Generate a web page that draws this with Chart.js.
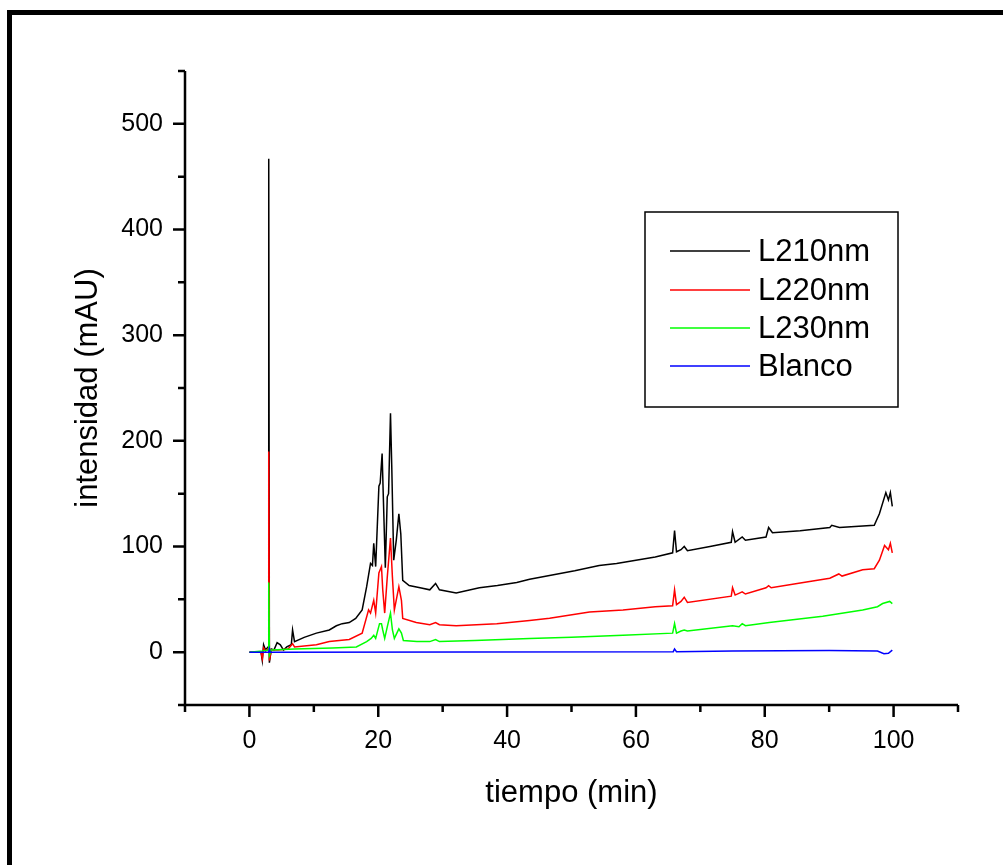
<!DOCTYPE html>
<html>
<head>
<meta charset="utf-8">
<script src="https://cdn.jsdelivr.net/npm/chart.js@4/dist/chart.umd.min.js"></script>
<style>
  html, body { margin: 0; padding: 0; background: #fff; }
  #wrap { width: 1003px; height: 865px; }
</style>
</head>
<body>
<div id="wrap"><canvas id="chart" width="1003" height="865"></canvas></div>
<script>
// series labels
const seriesNames = ['L210nm', 'L220nm', 'L230nm', 'Blanco']

// L210nm (tiempo, intensidad)
const tBlack = [
  0, 1.8, 2.0, 2.2, 2.5, 2.9, 3.0, 3.1, 3.4, 3.8,
  4.3, 4.8, 5.3, 5.8, 6.5, 6.7, 7.0, 8.5, 10.4, 12.4,
  13.5, 14.4, 15.5, 16.5, 17.5, 18.2, 18.8, 19.1, 19.3, 19.6,
  20.1, 20.3, 20.6, 20.8, 21.1, 21.4, 21.6, 21.9, 22.1, 22.4,
  22.8, 23.2, 23.5, 23.8, 24.8, 26.5, 28.0, 28.9, 29.5, 32.1,
  35.7, 38.5, 41.5, 43.5, 47, 50.5, 54.3, 57, 60, 63,
  65.7, 66.0, 66.3, 67.0, 67.5, 68.0, 71.5, 74.8, 75.0, 75.4,
  76.5, 77.0, 80.2, 80.6, 81.2, 85.5, 90.1, 90.4, 91.6, 94,
  97.0, 97.8, 98.8, 99.2, 99.5, 99.8
]
const vBlack = [
  0, 0, -8, 7, 2, 5, 467, -10, 3, 2,
  9, 7, 2, 5, 7, 21, 10, 14, 18, 21,
  25, 27, 28, 32, 40, 62, 84, 82, 103, 81,
  157, 160, 188, 144, 80, 147, 150, 226, 175, 87,
  106, 131, 112, 68, 63, 61, 59, 65, 59, 56,
  61, 63, 66, 69, 73, 77, 82, 84, 87, 90,
  94, 115, 95, 97, 100, 96, 100, 104, 114, 104,
  109, 106, 109, 118, 113, 115, 118, 120, 118, 119,
  120, 131, 151, 144, 151, 138
]

// L220nm
const tRed = [
  0, 1.8, 2.0, 2.2, 2.5, 2.9, 3.0, 3.1, 3.4, 4.5,
  6.0, 6.7, 7.0, 10.4, 12.4, 15.5, 17.5, 18.5, 18.8, 19.3,
  19.6, 20.1, 20.5, 20.7, 21.0, 21.4, 21.9, 22.2, 22.5, 23.2,
  23.6, 23.8, 25.9, 28.0, 28.9, 29.5, 32.1, 38.4, 43.5, 46.6,
  52.8, 58, 63, 65.7, 66.0, 66.3, 67.0, 67.5, 68.0, 74.8,
  75.0, 75.4, 76.5, 77.0, 80.2, 80.6, 81.0, 86, 90.1, 91.5,
  92, 95.2, 97.0, 97.8, 98.6, 99.2, 99.5, 99.8
]
const vRed = [
  0, 0, -6, 4, 1, 3, 190, -8, 2, 2,
  3, 8, 5, 7, 10, 12, 18, 40, 37, 49,
  37, 75, 81, 59, 37, 71, 108, 71, 40, 62,
  49, 32, 28, 26, 28, 26, 25, 27, 30, 32,
  38, 40, 43, 44, 59, 45, 48, 52, 47, 53,
  61, 54, 57, 55, 61, 63, 61, 66, 70, 74,
  72, 78, 79, 87, 101, 97, 103, 94
]

// L230nm
const tGreen = [
  0, 2.0, 2.9, 3.0, 3.1, 3.4, 7.0, 12.9, 16.6, 18.2,
  18.9, 19.3, 19.6, 20.2, 20.5, 20.7, 21.0, 21.4, 21.9, 22.2,
  22.5, 23.2, 23.6, 23.9, 26, 28.0, 28.9, 29.5, 35, 43.5,
  50, 58, 65.7, 66.0, 66.3, 67.0, 67.5, 68.0, 75.0, 76.0,
  76.5, 77.0, 80.7, 89, 95.2, 97.5, 98.3, 99.4, 99.8
]
const vGreen = [
  0, 1, 2, 66, -3, 2, 3, 4, 5, 10,
  13, 16, 13, 27, 27, 21, 13, 24, 37, 21,
  13, 22, 18, 11, 10, 10, 12, 10, 11, 13,
  14, 16, 18, 27, 18, 20, 21, 20, 25, 24,
  27, 25, 28, 34, 40, 43, 46, 48, 46
]

// Blanco
const tBlue = [0, 3.0, 3.1, 3.2, 65.8, 66.0, 66.3, 75.0, 90, 97.5, 98.5, 99.2, 99.8]
const vBlue = [0, 0, 3, 0, 0.5, 3, 0.5, 1, 1.5, 1, -1.5, -1, 2]

// axis ticks
const xTicks = [-10, 0, 10, 20, 30, 40, 50, 60, 70, 80, 90, 100, 110]
const yTicks = [-50, 0, 50, 100, 150, 200, 250, 300, 350, 400, 450, 500, 550]

const colors = ['#000000', '#ff0000', '#00ff00', '#0000ff']
const FONT = 'Liberation Sans, Arial, sans-serif'

function pts(t, v) {
  return t.map((x, i) => ({ x: x, y: v[i] }))
}

const frameAndAxes = {
  id: 'frameAndAxes',
  afterDraw(chart) {
    const ctx = chart.ctx
    const area = chart.chartArea
    const xs = chart.scales.x
    const ys = chart.scales.y
    ctx.save()
    ctx.strokeStyle = '#000'
    ctx.lineCap = 'butt'

    // outer frame (left and top edges visible)
    ctx.lineWidth = 5
    ctx.beginPath()
    ctx.moveTo(9.5, 865)
    ctx.lineTo(9.5, 12.5)
    ctx.lineTo(1003, 12.5)
    ctx.stroke()

    // axes
    ctx.lineWidth = 2.5
    ctx.beginPath()
    ctx.moveTo(area.left, area.top)
    ctx.lineTo(area.left, area.bottom + 1.2)
    ctx.moveTo(area.left - 1.2, area.bottom)
    ctx.lineTo(area.right, area.bottom)
    ctx.stroke()

    // tick marks, outward
    ctx.lineWidth = 2.5
    ctx.beginPath()
    for (const v of xTicks) {
      const px = xs.getPixelForValue(v)
      const len = v % 20 === 0 ? 12 : 7
      ctx.moveTo(px, area.bottom)
      ctx.lineTo(px, area.bottom + len)
    }
    for (const v of yTicks) {
      const py = ys.getPixelForValue(v)
      const len = v % 100 === 0 ? 12 : 7
      ctx.moveTo(area.left, py)
      ctx.lineTo(area.left - len, py)
    }
    ctx.stroke()

    // legend box
    const lx = 645, ly = 212, lw = 253, lh = 195
    ctx.lineWidth = 1.5
    ctx.strokeRect(lx, ly, lw, lh)
    ctx.font = '31px ' + FONT
    ctx.fillStyle = '#000'
    ctx.textBaseline = 'middle'
    ctx.textAlign = 'left'
    const rows = [251, 290, 328, 366]
    chart.data.datasets.forEach((ds, i) => {
      ctx.strokeStyle = ds.borderColor
      ctx.lineWidth = 1.5
      ctx.beginPath()
      ctx.moveTo(670, rows[i])
      ctx.lineTo(750, rows[i])
      ctx.stroke()
      ctx.fillText(ds.label, 758, rows[i] + 1)
    })
    ctx.restore()
  }
}

new Chart(document.getElementById('chart'), {
  type: 'line',
  data: {
    datasets: [
      { label: seriesNames[0], data: pts(tBlack, vBlack), borderColor: colors[0], order: 4 },
      { label: seriesNames[1], data: pts(tRed, vRed), borderColor: colors[1], order: 3 },
      { label: seriesNames[2], data: pts(tGreen, vGreen), borderColor: colors[2], order: 2 },
      { label: seriesNames[3], data: pts(tBlue, vBlue), borderColor: colors[3], order: 1 }
    ]
  },
  options: {
    responsive: false,
    animation: false,
    layout: { padding: { top: 71, right: 45, bottom: 0, left: 0 } },
    elements: {
      point: { radius: 0 },
      line: { borderWidth: 1.5, tension: 0, fill: false }
    },
    plugins: {
      legend: { display: false },
      tooltip: { enabled: false }
    },
    scales: {
      x: {
        type: 'linear',
        min: -10,
        max: 110,
        grid: { display: false, drawTicks: false },
        border: { display: false },
        ticks: {
          stepSize: 10,
          autoSkip: false,
          maxRotation: 0,
          padding: 21,
          color: '#000',
          font: { family: FONT, size: 25 },
          callback: (v) => (v % 20 === 0 ? String(v) : null)
        },
        title: {
          display: true,
          text: 'tiempo (min)',
          color: '#000',
          font: { family: FONT, size: 31 },
          padding: { top: 0, bottom: 53 }
        },
        afterFit(scale) { scale.height = 160 }
      },
      y: {
        min: -50,
        max: 550,
        grid: { display: false, drawTicks: false },
        border: { display: false },
        ticks: {
          stepSize: 50,
          autoSkip: false,
          padding: 22,
          color: '#000',
          font: { family: FONT, size: 25 },
          callback: (v) => (v % 100 === 0 ? String(v) : null)
        },
        title: {
          display: true,
          text: 'intensidad (mAU)',
          color: '#000',
          font: { family: FONT, size: 31 },
          padding: { top: 70, bottom: 0 }
        },
        afterFit(scale) { scale.width = 185 }
      }
    }
  },
  plugins: [frameAndAxes]
})
</script>
</body>
</html>
